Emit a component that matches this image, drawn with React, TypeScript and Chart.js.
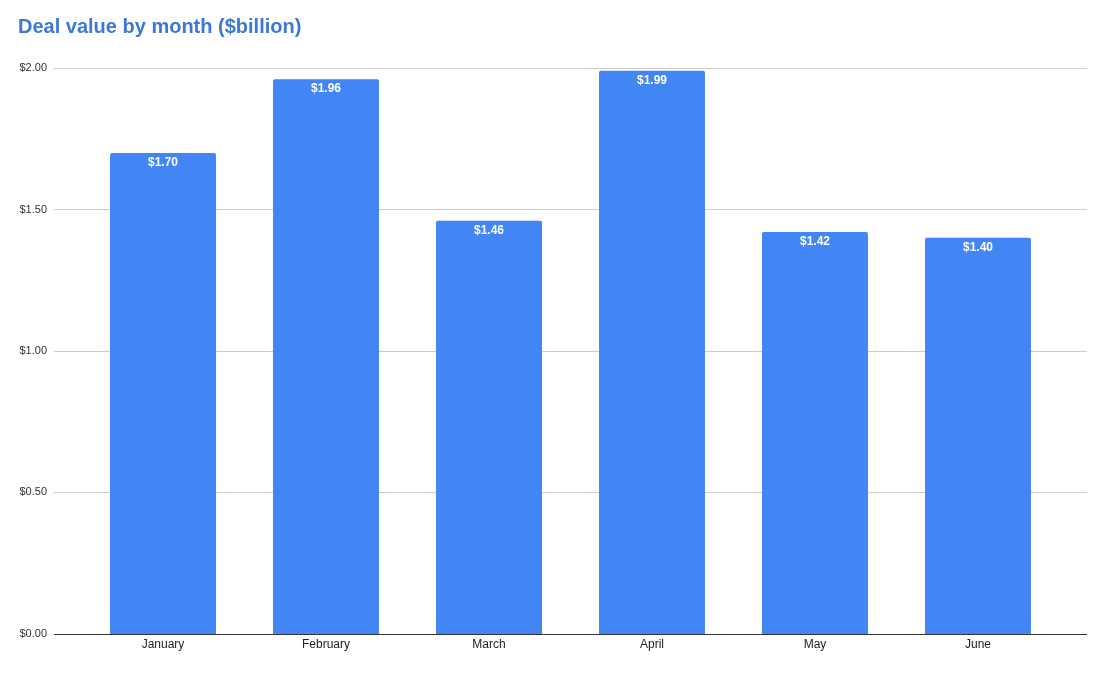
import React, { useEffect, useRef } from "react";
import { Chart, registerables } from "chart.js";

Chart.register(...registerables);

const months = ["January", "February", "March", "April", "May", "June"];
const dealValues = [1.7, 1.96, 1.46, 1.99, 1.42, 1.4];
const yTicks = [0, 0.5, 1.0, 1.5, 2.0];

const FONT = 'Arial, "Liberation Sans", sans-serif';

const gridPlugin = {
  id: "extendedGrid",
  beforeDatasetsDraw(chart: any) {
    const ctx = chart.ctx;
    const y = chart.scales.y;
    ctx.save();
    yTicks.forEach((v) => {
      const py = Math.round(y.getPixelForValue(v)) + 0.5;
      ctx.beginPath();
      ctx.strokeStyle = v === 0 ? "#333333" : "#cccccc";
      ctx.lineWidth = 1;
      ctx.moveTo(54, py);
      ctx.lineTo(1087, py);
      ctx.stroke();
    });
    ctx.restore();
  },
  afterDatasetsDraw(chart: any) {
    const ctx = chart.ctx;
    const meta = chart.getDatasetMeta(0);
    ctx.save();
    ctx.fillStyle = "#ffffff";
    ctx.font = `bold 12px ${FONT}`;
    ctx.textAlign = "center";
    ctx.textBaseline = "middle";
    meta.data.forEach((bar: any, i: number) => {
      const v = chart.data.datasets[0].data[i] as number;
      ctx.fillText("$" + v.toFixed(2), bar.x, bar.y + 9.5);
    });
    const y = chart.scales.y;
    const py = Math.round(y.getPixelForValue(0)) + 0.5;
    ctx.beginPath();
    ctx.strokeStyle = "#333333";
    ctx.lineWidth = 1;
    ctx.moveTo(54, py);
    ctx.lineTo(1087, py);
    ctx.stroke();
    ctx.restore();
  },
};

export default function App() {
  const ref = useRef<HTMLCanvasElement>(null);
  useEffect(() => {
    if (!ref.current) return;
    const chart = new Chart(ref.current, {
      type: "bar",
      data: {
        labels: months,
        datasets: [
          {
            data: dealValues,
            backgroundColor: "#4285f4",
            borderRadius: { topLeft: 2, topRight: 2, bottomLeft: 0, bottomRight: 0 },
            borderSkipped: false,
            categoryPercentage: 1,
            barPercentage: 0.65,
          },
        ],
      },
      options: {
        responsive: false,
        animation: false,
        maintainAspectRatio: false,
        layout: { padding: { left: 18, right: 52.5, top: 0, bottom: 0 } },
        plugins: {
          legend: { display: false },
          tooltip: { enabled: false },
          title: {
            display: true,
            text: "Deal value by month ($billion)",
            align: "start",
            color: "#3c78d8",
            font: { family: FONT, size: 20, weight: "bold" },
            padding: { top: 15, bottom: 29 },
          },
        },
        scales: {
          x: {
            grid: { display: false, drawTicks: false },
            border: { display: false },
            ticks: {
              color: "#222222",
              font: { family: FONT, size: 12 },
              padding: 4,
              maxRotation: 0,
            },
            afterFit: (s: any) => {
              s.height = 39;
            },
          },
          y: {
            min: 0,
            max: 2,
            grid: { display: false, drawTicks: false },
            border: { display: false },
            ticks: {
              stepSize: 0.5,
              color: "#333333",
              font: { family: FONT, size: 11 },
              padding: 34.5,
              callback: (v: any) => "$" + Number(v).toFixed(2),
            },
            afterFit: (s: any) => {
              s.width = 63.5;
            },
          },
        },
      },
      plugins: [gridPlugin],
    });
    return () => chart.destroy();
  }, []);
  return (
    <div
      style={{
        position: "fixed",
        left: 0,
        top: 0,
        width: 1112,
        height: 673,
        overflow: "hidden",
        background: "#fff",
      }}
    >
      <canvas ref={ref} width={1112} height={675} style={{ width: 1112, height: 675, display: "block" }} />
    </div>
  );
}
